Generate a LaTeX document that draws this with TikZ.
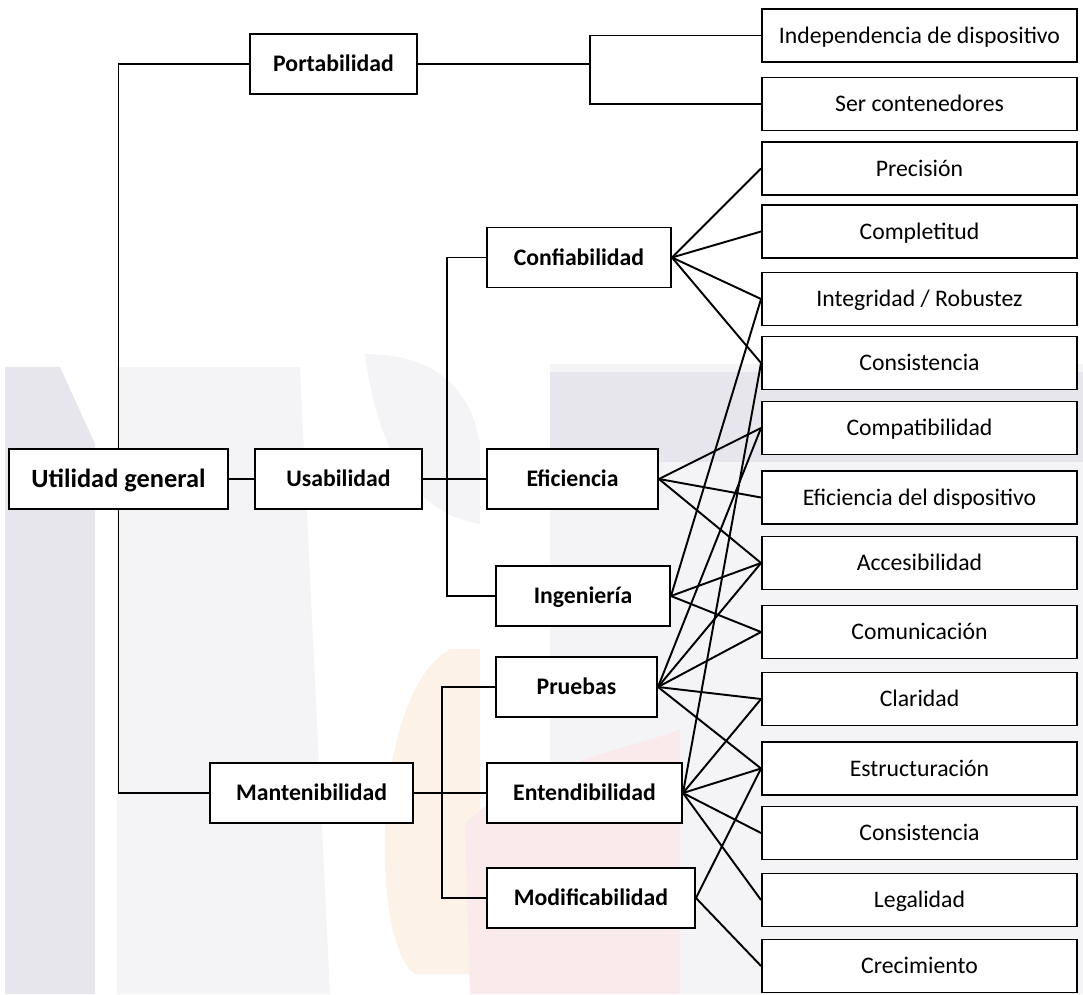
\documentclass[tikz,border=0pt]{standalone}
\usepackage{fontspec}
\setmainfont{Carlito}
\usetikzlibrary{positioning,calc}
\definecolor{Ink}{HTML}{000000}
\definecolor{MarkGrey}{HTML}{E7E6EC}
\definecolor{MarkLight}{HTML}{F4F4F7}
\definecolor{MarkPeach}{HTML}{FDF2E7}
\definecolor{MarkPink}{HTML}{FAEAEC}
\tikzset{rootbox/.style={rectangle,draw=Ink,line width=1.1pt,fill=white,minimum height=1.2cm,inner sep=2pt,text height=9.5pt,text depth=0pt,font=\fontsize{15}{18}\selectfont\bfseries},catbox/.style={rectangle,draw=Ink,line width=1.1pt,fill=white,minimum height=1.2cm,inner sep=2pt,text height=8.7pt,text depth=0pt,font=\fontsize{13.5}{16}\selectfont\bfseries},leafbox/.style={rectangle,draw=Ink,line width=1.1pt,fill=white,minimum width=6.3cm,minimum height=1.06cm,inner sep=2pt,text height=8.7pt,text depth=0pt,font=\fontsize{13.5}{16}\selectfont},link/.style={draw=Ink,line width=1.1pt}}

\begin{document}
\begin{tikzpicture}[x=1cm,y=1cm]
\useasboundingbox (0,0) rectangle (21.66,19.88);
% marca de agua
\fill[MarkLight] (2.34,12.54) -- (6.0,12.54) -- (6.6,0) -- (2.34,0) -- cycle;
\fill[MarkLight] (7.3,12.8) .. controls (8.6,12.8) and (9.4,12.2) .. (9.6,11.0) -- (9.6,9.4) .. controls (8.4,9.6) and (7.6,10.6) .. (7.3,12.8) -- cycle;
\fill[MarkLight] (11.0,12.6) rectangle (21.66,0);
\fill[MarkGrey] (11.0,12.44) rectangle (21.66,10.64);
\fill[MarkGrey] (0.1,12.54) -- (1.2,12.54) -- (1.9,11.0) -- (1.9,0) -- (0.1,0) -- cycle;
\fill[MarkPeach] (9.0,6.9) .. controls (7.4,6.0) and (7.4,1.0) .. (8.3,0.4) -- (9.6,0.4) -- (9.6,6.9) -- cycle;
\fill[MarkPink] (9.3,3.4) .. controls (10.5,4.6) and (13.0,5.0) .. (13.6,5.3) -- (13.6,0) -- (9.4,0) -- cycle;
% criterios
\node[rootbox,minimum width=4.38cm] (util) at (2.37,10.30) {Utilidad general};
\node[catbox,minimum width=3.34cm] (port) at (6.67,18.60) {Portabilidad};\node[catbox,minimum width=3.34cm] (usab) at (6.77,10.30) {Usabilidad};\node[catbox,minimum width=4.06cm] (mant) at (6.23,4.02) {Mantenibilidad};
\node[catbox,minimum width=3.68cm] (conf) at (11.58,14.73) {Confiabilidad};\node[catbox,minimum width=3.42cm] (efic) at (11.45,10.30) {Eficiencia};\node[catbox,minimum width=3.48cm] (inge) at (11.66,7.96) {Ingeniería};
\node[catbox,minimum width=3.22cm] (prue) at (11.53,6.14) {Pruebas};\node[catbox,minimum width=3.90cm] (ente) at (11.69,4.02) {Entendibilidad};\node[catbox,minimum width=4.16cm] (modi) at (11.82,1.92) {Modificabilidad};
% atributos
\node[leafbox] (indep) at (18.39,19.17) {Independencia de dispositivo};\node[leafbox] (conte) at (18.39,17.80) {Ser contenedores};
\node[leafbox] (prec) at (18.39,16.51) {Precisión};\node[leafbox] (compl) at (18.39,15.25) {Completitud};\node[leafbox] (integ) at (18.39,13.90) {Integridad / Robustez};\node[leafbox] (consA) at (18.39,12.62) {Consistencia};
\node[leafbox] (compa) at (18.39,11.32) {Compatibilidad};\node[leafbox] (efdis) at (18.39,9.93) {Eficiencia del dispositivo};\node[leafbox] (acces) at (18.39,8.62) {Accesibilidad};\node[leafbox] (comun) at (18.39,7.24) {Comunicación};
\node[leafbox] (clari) at (18.39,5.90) {Claridad};\node[leafbox] (estru) at (18.39,4.51) {Estructuración};\node[leafbox] (consB) at (18.39,3.22) {Consistencia};\node[leafbox] (legal) at (18.39,1.88) {Legalidad};\node[leafbox] (creci) at (18.39,0.56) {Crecimiento};
% arbol
\coordinate (pbar) at (11.80,0);\coordinate (ubar) at (8.94,0);\coordinate (mbar) at (8.84,0);
\draw[link] (port.west) -| (util.north);\draw[link] (mant.west) -| (util.south);\draw[link] (util.east) -- (usab.west);
\draw[link] (port.east) -- (port.east -| pbar);\draw[link] (indep.west) -| (pbar |- conte.west) -- (conte.west);
\draw[link] (usab.east) -- (efic.west);\draw[link] (conf.west) -| (ubar |- inge.west) -- (inge.west);
\draw[link] (mant.east) -- (ente.west);\draw[link] (prue.west) -| (mbar |- modi.west) -- (modi.west);
% relaciones
\draw[link] (conf.east) -- (prec.west);\draw[link] (conf.east) -- (compl.west);\draw[link] (conf.east) -- (integ.west);\draw[link] (conf.east) -- (consA.west);
\draw[link] (efic.east) -- (compa.west);\draw[link] (efic.east) -- (efdis.west);\draw[link] (efic.east) -- (acces.west);
\draw[link] (inge.east) -- (integ.west);\draw[link] (inge.east) -- (acces.west);\draw[link] (inge.east) -- (comun.west);
\draw[link] (prue.east) -- (compa.west);\draw[link] (prue.east) -- (acces.west);\draw[link] (prue.east) -- (comun.west);\draw[link] (prue.east) -- (clari.west);\draw[link] (prue.east) -- (estru.west);
\draw[link] (ente.east) -- (consA.west);\draw[link] (ente.east) -- (clari.west);\draw[link] (ente.east) -- (estru.west);\draw[link] (ente.east) -- (consB.west);\draw[link] (ente.east) -- (legal.west);
\draw[link] (modi.east) -- (estru.west);\draw[link] (modi.east) -- (creci.west);
\end{tikzpicture}
\end{document}
